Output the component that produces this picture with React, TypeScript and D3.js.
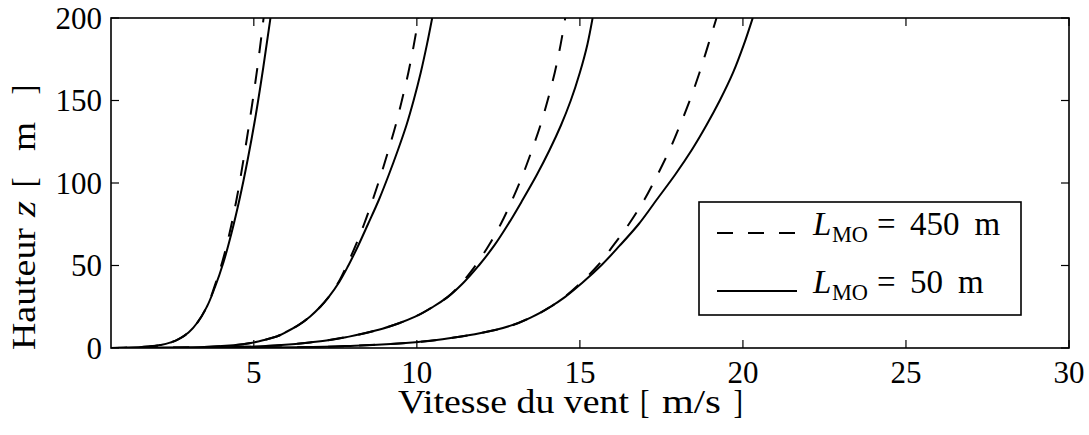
import React from "react";
import * as d3 from "d3";

// ---- data ----
const xTicks = [5, 10, 15, 20, 25, 30];
const yTicks = [0, 50, 100, 150, 200];
const xDomain = [0.62, 30];
const yDomain = [0, 200];

// L_MO = 50 m (solid): wind speed u [m/s] at height z [m]
const S1_z = [0, 0.2, 0.5, 1, 2, 3.5, 6, 10, 16, 25, 37, 52, 70, 90, 115, 140, 170, 200];
const S1_u = [0.62, 1.01, 1.47, 1.83, 2.18, 2.47, 2.75, 3.03, 3.29, 3.56, 3.81, 4.07, 4.32, 4.56, 4.82, 5.05, 5.29, 5.51];
const S2_z = [0, 0.2, 0.8, 1.8, 3.2, 5, 7, 10, 14, 19, 25, 31, 40, 50, 62, 75, 90, 105, 120, 135, 150, 167, 184, 200];
const S2_u = [0.62, 2.7, 3.65, 4.45, 4.95, 5.35, 5.7, 6.02, 6.38, 6.72, 7.04, 7.3, 7.62, 7.9, 8.2, 8.5, 8.84, 9.14, 9.42, 9.68, 9.9, 10.12, 10.31, 10.47];
const S3_z = [0, 0.3, 0.8, 1.8, 3.8, 6.9, 10.9, 15, 19, 25, 31, 40, 50, 62, 75, 90, 105, 120, 135, 150, 167, 184, 200];
const S3_u = [0.62, 3.6, 4.88, 5.85, 6.9, 7.92, 8.8, 9.45, 9.95, 10.5, 10.95, 11.45, 11.9, 12.37, 12.8, 13.25, 13.68, 14.07, 14.42, 14.72, 15.0, 15.23, 15.39];
const S4_z = [0, 0.4, 1.4, 2.4, 3.8, 6.5, 10.9, 19, 25, 31, 40, 50, 62, 75, 90, 105, 120, 135, 150, 167, 184, 200];
const S4_u = [0.62, 6.4, 8.1, 9.2, 10.1, 11.2, 12.4, 13.55, 14.1, 14.55, 15.1, 15.65, 16.22, 16.8, 17.36, 17.92, 18.43, 18.88, 19.29, 19.7, 20.03, 20.3];

// L_MO = 450 m (dashed)
const D1_z = [0, 0.2, 0.5, 1, 2, 3.5, 6, 10, 16, 25, 37, 52, 70, 90, 115, 140, 170, 200];
const D1_u = [0.62, 1.01, 1.47, 1.83, 2.18, 2.47, 2.75, 3.03, 3.29, 3.56, 3.79, 4.03, 4.26, 4.47, 4.69, 4.89, 5.11, 5.3];
const D2_z = [0, 0.2, 0.8, 1.8, 3.2, 5, 7, 10, 14, 19, 25, 31, 40, 50, 62, 75, 90, 105, 120, 135, 150, 167, 184, 200];
const D2_u = [0.62, 2.7, 3.65, 4.45, 4.95, 5.35, 5.7, 6.02, 6.38, 6.72, 7.04, 7.3, 7.6, 7.85, 8.12, 8.38, 8.65, 8.9, 9.13, 9.35, 9.54, 9.74, 9.91, 10.05];
const D3_z = [0, 0.3, 0.8, 1.8, 3.8, 6.9, 10.9, 15, 19, 25, 31, 40, 50, 62, 75, 90, 105, 120, 135, 150, 167, 184, 200];
const D3_u = [0.62, 3.6, 4.88, 5.85, 6.9, 7.92, 8.8, 9.45, 9.95, 10.5, 10.95, 11.4, 11.8, 12.2, 12.57, 12.93, 13.25, 13.53, 13.79, 14.01, 14.23, 14.41, 14.55];
const D4_z = [0, 0.4, 1.4, 2.4, 3.8, 6.5, 10.9, 19, 25, 31, 40, 50, 62, 75, 90, 105, 120, 135, 150, 167, 184, 200];
const D4_u = [0.62, 6.4, 8.1, 9.2, 10.1, 11.2, 12.4, 13.55, 14.1, 14.53, 15.05, 15.55, 16.02, 16.5, 16.98, 17.38, 17.75, 18.07, 18.37, 18.67, 18.94, 19.19];

const solidSeries = [[S1_u, S1_z], [S2_u, S2_z], [S3_u, S3_z], [S4_u, S4_z]];
const dashedSeries = [[D1_u, D1_z], [D2_u, D2_z], [D3_u, D3_z], [D4_u, D4_z]];

const legendLabels = ["450", "50"];
const xLabelParts = ["Vitesse du vent", "[", "m/s", "]"];
const yLabelParts = ["Hauteur", "z", "[", "m", "]"];

const FONT = "Liberation Serif, Times New Roman, DejaVu Serif, serif";

export default function App() {
  const W = 1089, H = 435;
  const left = 111, right = 1069, top = 18, bottom = 348;
  const x = d3.scaleLinear().domain(xDomain).range([left, right]);
  const y = d3.scaleLinear().domain(yDomain).range([bottom, top]);
  const line = d3
    .line<[number, number]>()
    .x((d) => x(d[0]))
    .y((d) => y(d[1]))
    .curve(d3.curveMonotoneY);
  const toPts = (u: number[], z: number[]) => u.map((v, i) => [v, z[i]] as [number, number]);
  const tickLen = 8;
  const ts = { fontFamily: FONT } as React.CSSProperties;
  const dash = "16 15";

  // label piece layout: [start, width] along the text direction
  const xLab = [[398, 231], [640, 9.5], [662, 59], [733.5, 9.5]];
  const yLab = [[0, 122], [133, 16], [163, 9.5], [199, 29], [255.5, 9.5]];

  return (
    <svg width={W} height={H} style={{ position: "absolute", left: 0, top: 0, background: "#fff" }}>
      <defs>
        <clipPath id="plot">
          <rect x={left} y={top} width={right - left} height={bottom - top} />
        </clipPath>
      </defs>
      <rect x={0} y={0} width={W} height={H} fill="#fff" />
      <g clipPath="url(#plot)" fill="none" stroke="#000" strokeWidth={2}>
        {dashedSeries.map((s, i) => (
          <path key={"d" + i} d={line(toPts(s[0], s[1])) || ""} strokeDasharray={dash} />
        ))}
        {solidSeries.map((s, i) => (
          <path key={"s" + i} d={line(toPts(s[0], s[1])) || ""} />
        ))}
      </g>
      {/* ticks */}
      <g stroke="#000" strokeWidth={1.2}>
        {xTicks.map((t) => (
          <g key={"xt" + t}>
            <line x1={x(t)} x2={x(t)} y1={bottom} y2={bottom - tickLen} />
            <line x1={x(t)} x2={x(t)} y1={top} y2={top + tickLen} />
          </g>
        ))}
        {yTicks.map((t) => (
          <g key={"yt" + t}>
            <line x1={left} x2={left + tickLen} y1={y(t)} y2={y(t)} />
            <line x1={right} x2={right - tickLen} y1={y(t)} y2={y(t)} />
          </g>
        ))}
      </g>
      <rect x={left} y={top} width={right - left} height={bottom - top} fill="none" stroke="#000" strokeWidth={1.6} />
      {/* tick labels */}
      <g fill="#000">
        {xTicks.map((t) => (
          <text key={"xl" + t} x={x(t)} y={383} textAnchor="middle" fontSize={31} style={ts}>
            {t}
          </text>
        ))}
        {yTicks.map((t) => (
          <text key={"yl" + t} x={102} y={y(t) + 10.5} textAnchor="end" fontSize={31} style={ts}>
            {t}
          </text>
        ))}
      </g>
      {/* axis labels */}
      <g>
        {xLabelParts.map((p, i) => (
          <text key={"xp" + i} x={xLab[i][0]} y={413} fontSize={33} style={ts}
            textLength={xLab[i][1]} lengthAdjust="spacingAndGlyphs">
            {p}
          </text>
        ))}
      </g>
      <g transform="translate(35,350) rotate(-90)">
        {yLabelParts.map((p, i) => (
          <text key={"yp" + i} x={yLab[i][0]} y={0} fontSize={33} style={ts}
            fontStyle={p === "z" ? "italic" : "normal"}
            textLength={yLab[i][1]} lengthAdjust="spacingAndGlyphs">
            {p}
          </text>
        ))}
      </g>
      {/* legend */}
      <rect x={699} y={202} width={322} height={113} fill="#fff" stroke="#000" strokeWidth={1.6} />
      <line x1={717} x2={797} y1={233} y2={233} stroke="#000" strokeWidth={2} strokeDasharray={dash} />
      <line x1={717} x2={797} y1={291} y2={291} stroke="#000" strokeWidth={2} />
      {legendLabels.map((lab, i) => {
        const by = [235, 293][i];
        const numW = lab.length * 16.5;
        return (
          <g key={"lg" + i}>
            <text x={813} y={by} fontSize={33} fontStyle="italic" style={ts}>L</text>
            <text x={832} y={by + 7} fontSize={23} style={ts} textLength={36} lengthAdjust="spacingAndGlyphs">MO</text>
            <text x={877} y={by} fontSize={33} style={ts}>=</text>
            <text x={910} y={by} fontSize={33} style={ts}>{lab}</text>
            <text x={910 + numW + 15} y={by} fontSize={33} style={ts}>m</text>
          </g>
        );
      })}
    </svg>
  );
}
